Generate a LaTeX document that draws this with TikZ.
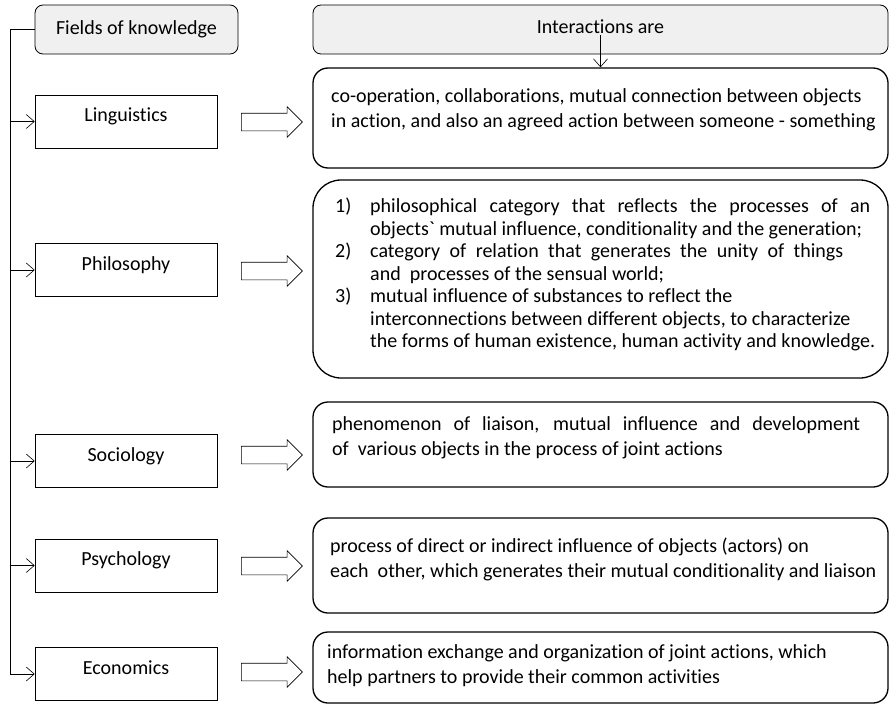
\documentclass[tikz,border=0pt]{standalone}
\usepackage{fontspec}
\setmainfont{Carlito}[Ligatures={TeX,NoCommon}]
\usetikzlibrary{arrows.meta,shapes.arrows}

\newcommand{\jline}[2]{\makebox[#1][s]{#2}}
\newcommand{\num}[1]{\makebox[35pt][l]{#1}}

\tikzset{
  head/.style={draw, thick, rounded corners=8pt, fill=gray!12, minimum height=49pt},
  field/.style={draw, semithick, minimum width=182pt, minimum height=53pt,
    text height=13pt, text depth=13pt, inner sep=0pt},
  answer/.style={draw, line width=1.3pt, rounded corners=15pt, minimum width=575pt, inner sep=0pt},
  body/.style={anchor=north west, align=left, inner sep=0pt},
  fat/.style={single arrow, draw, semithick, minimum height=61pt, minimum width=30pt,
    single arrow head extend=6.5pt, inner xsep=0pt, inner ysep=8.5pt},
  tip/.style={semithick, -{Straight Barb[length=8pt,width=14pt]}}
}

\begin{document}
\begin{tikzpicture}[x=1pt, y=-1pt, font=\fontsize{20}{25}\selectfont]
   \useasboundingbox (0,0) rectangle (890,706);

   % Headers
   \node[head, minimum width=203pt] (fields) at (136.5,29.5) {Fields of knowledge};
   \node[head, minimum width=575pt] (interbox) at (600.5,29.5) {};
   \node[inner sep=1pt] (inter) at (600.5,27) {Interactions are};

   % Fields
   \node[field] (ling)  at (126,121.5) {Linguistics};
   \node[field] (phil)  at (126,270)   {Philosophy};
   \node[field] (soc)   at (126,461)   {Sociology};
   \node[field] (psych) at (126,565.5) {Psychology};
   \node[field] (econ)  at (126,674)   {Economics};

   % Block arrows
   \node[fat] (f1) at (267.5,122) {};
   \node[fat] (f2) at (267.5,271) {};
   \node[fat] (f3) at (267.5,455) {};
   \node[fat] (f4) at (267.5,566) {};
   \node[fat] (f5) at (267.5,672) {};

   % Answer boxes
   \node[answer, minimum height=100pt] (b1) at (600.5,118) {};
   \node[answer, minimum height=198pt, rounded corners=28pt] (b2) at (600.5,279) {};
   \node[answer, minimum height=85pt] (b3) at (600.5,444.5) {};
   \node[answer, minimum height=95pt] (b4) at (600.5,565.5) {};
   \node[answer, minimum height=71pt] (b5) at (600.5,667.5) {};

   % Texts
   \node[body] (t1) at (331,88) {co-operation, collaborations, mutual connection between objects\\
      in action, and also an agreed action between someone - something};
   \node[body, font=\fontsize{20}{22.5}\selectfont] (t2) at (335,198) {\num{1)}\jline{500pt}{philosophical category that reflects the processes of an}\\
      \hspace*{35pt}objects\textasciigrave{} mutual influence, conditionality and the generation;\\
      \num{2)}\jline{473pt}{category of relation that generates the unity of things}\\
      \hspace*{35pt}and~ processes of the sensual world;\\
      \num{3)}mutual influence of substances to reflect the\\
      \hspace*{35pt}interconnections between different objects, to characterize\\
      \hspace*{35pt}the forms of human existence, human activity and knowledge.};
   \node[body] (t3) at (332,416) {\jline{528pt}{phenomenon of liaison, mutual influence and development}\\
      of~ various objects in the process of joint actions};
   \node[body] (t4) at (330,538) {process of direct or indirect influence of objects (actors) on\\
      each~ other, which generates their mutual conditionality and liaison};
   \node[body] (t5) at (327,644) {information exchange and organization of joint actions, which\\
      help partners to provide their common activities};

   % Connectors
   \coordinate (top) at (10,29.5);
   \draw[semithick] (fields.west) -- (top);
   \draw[tip] (top) |- (econ.west);
   \foreach \f in {ling,phil,soc,psych}
      \draw[tip] (\f.west -| top) -- (\f.west);
   \draw[tip] (inter.south) -- (inter.south |- b1.north);
\end{tikzpicture}
\end{document}
